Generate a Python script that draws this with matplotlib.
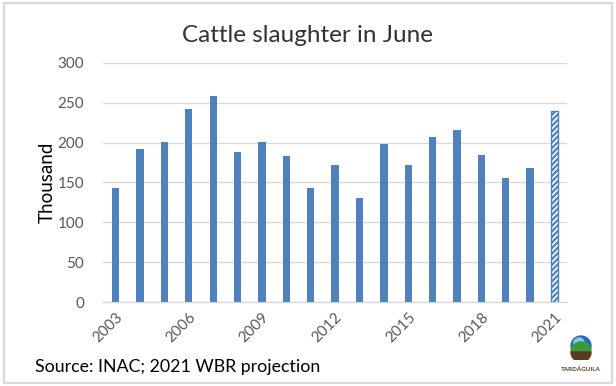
import matplotlib
matplotlib.use("Agg")
import matplotlib.pyplot as plt
from matplotlib.patches import Rectangle, Circle, Wedge
import numpy as np

years = list(range(2003, 2022))
values = [143, 192, 201, 242, 258, 188, 201, 183, 143, 172, 130, 198, 172, 207, 216, 185, 155, 168, 240]
tick_years = [2003, 2006, 2009, 2012, 2015, 2018, 2021]
projection_year = 2021

title = "Cattle slaughter in June"
ylabel = "Thousand"
source = "Source: INAC; 2021 WBR projection"

plt.rcParams['font.family'] = ['Lato', 'DejaVu Sans']
plt.rcParams['hatch.linewidth'] = 1.6

fig = plt.figure(figsize=(6.16, 3.86), dpi=100)
ax = fig.add_axes([0.168, 0.2176, 0.752, 0.6194])

blue = '#4f81bd'
x = np.arange(len(years))
for xi, yr, v in zip(x, years, values):
    if yr == projection_year:
        plt.rcParams['hatch.color'] = blue
        ax.bar(xi, v, width=0.3, color='white', edgecolor=blue, hatch='//////', linewidth=1.0, zorder=3)
    else:
        ax.bar(xi, v, width=0.3, color=blue, zorder=3)

ax.set_xlim(-0.5, len(years) - 0.5)
ax.set_ylim(0, 300)
ax.set_yticks(range(0, 301, 50))
ax.yaxis.grid(True, color='#d9d9d9', linewidth=1.0, zorder=0)
ax.set_axisbelow(True)
for s in ['top', 'right', 'left']:
    ax.spines[s].set_visible(False)
ax.spines['bottom'].set_color('#d9d9d9')
ax.spines['bottom'].set_linewidth(1.0)
ax.tick_params(axis='both', length=0, colors='#595959', labelsize=11)
ax.tick_params(axis='y', pad=14)
ax.set_xticks([years.index(t) for t in tick_years])
ax.set_xticklabels([str(t) for t in tick_years], rotation=45, ha='right', rotation_mode='anchor')
ax.tick_params(axis='x', pad=6)
ax.set_ylabel(ylabel, fontsize=13.5, color='black', labelpad=1)

fig.text(0.5, 0.908, title, ha='center', va='center', fontsize=17.5, color='#333333')
fig.text(0.057, 0.05, source, ha='left', va='center', fontsize=12.8, color='black')

# frame
fig.patches.append(Rectangle((0.006, 0.008), 0.988, 0.984, transform=fig.transFigure,
                             fill=False, edgecolor='#d9d9d9', linewidth=1.6))

# logo
w, h = 616, 386
logo_ax = fig.add_axes([(581 - 14) / w, 1 - 360 / h, 28 / w, 28 / h])
logo_ax.set_xlim(-14, 14)
logo_ax.set_ylim(-14, 14)
logo_ax.set_aspect('equal')
logo_ax.axis('off')
logo_ax.add_patch(Circle((0, 0), 10, color='#2a6db5'))
logo_ax.add_patch(Circle((-2, 3), 5, color='#8ec6ea'))
logo_ax.add_patch(Wedge((0, -6), 10, 0, 180, color='#3a9a3a'))
logo_ax.add_patch(Wedge((0, -6), 10, 180, 360, color='#5a3b1e'))
fig.text(581 / w, 1 - 369 / h, "TARDÁGUILA", ha='center', va='center', fontsize=4.5,
         color='#5a3b1e', fontweight='bold')

fig.savefig('out.png', dpi=100)
